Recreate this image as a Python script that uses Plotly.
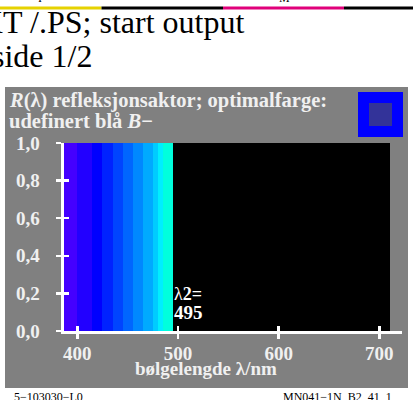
import plotly.graph_objects as go

W, H = 413, 400

# ---- data ----
band_edges = [386, 400, 415, 425, 435, 445, 455, 465, 475, 480, 485, 495]
band_colors = ["#4400ff", "#2200ff", "#0000ff", "#0022ff", "#0044ff", "#0066ff",
               "#0088ff", "#00aaff", "#00ccff", "#00eeff", "#00ffdd"]
band_reflectance = [1.0] * 11
frame_range = [386, 711]
frame_value = 1.0
x_tickvals = [400, 500, 600, 700]
x_ticktext = ["400", "500", "600", "700"]
y_tickvals = [0.0, 0.2, 0.4, 0.6, 0.8, 1.0]
y_ticktext = ["0,0", "0,2", "0,4", "0,6", "0,8", "1,0"]
lambda2 = 495

FONT = "Liberation Serif"
LABEL = "#f0f0f0"


def px(x):
    return x / W


def py(y):
    return 1 - y / H


fig = go.Figure()

# black frame (plot area)
fig.add_trace(go.Bar(
    x=[(frame_range[0] + frame_range[1]) / 2], y=[frame_value],
    width=[frame_range[1] - frame_range[0]],
    marker=dict(color="#000000", line=dict(width=0)),
    hoverinfo="skip", showlegend=False,
))
# colored bands
mids = [(a + b) / 2 for a, b in zip(band_edges[:-1], band_edges[1:])]
widths = [b - a for a, b in zip(band_edges[:-1], band_edges[1:])]
fig.add_trace(go.Bar(
    x=mids, y=band_reflectance, width=widths,
    marker=dict(color=band_colors, line=dict(width=0)),
    hoverinfo="skip", showlegend=False,
))
# dummy trace for overlay axes (inner half of the crossing ticks)
fig.add_trace(go.Scatter(x=[None], y=[None], xaxis="x2", yaxis="y2",
                         showlegend=False, hoverinfo="skip"))

xdom = [px(63.5), px(402)]
ydom = [py(331), py(143)]
xr = [400 - (77.3 - 63.5) / 1.0067, 700 + (402 - 379.3) / 1.0067]

fig.update_layout(
    width=W, height=H, autosize=False,
    margin=dict(l=0, r=0, t=0, b=0, autoexpand=False),
    paper_bgcolor="#ffffff", plot_bgcolor="rgba(0,0,0,0)",
    barmode="overlay", bargap=0,
    font=dict(family=FONT),
    xaxis=dict(domain=xdom, range=xr, tickvals=x_tickvals,
               ticktext=["<b>" + t + "</b>" for t in x_ticktext],
               ticks="outside", ticklen=5, tickwidth=2.5, tickcolor="#ffffff",
               showline=True, linecolor="#ffffff", linewidth=3,
               showgrid=False, zeroline=False, automargin=False,
               tickfont=dict(family=FONT, size=19, color=LABEL),
               ticklabelstandoff=0),
    yaxis=dict(domain=ydom, range=[0, 1], tickvals=y_tickvals,
               ticktext=["<b>" + t + "</b>" for t in y_ticktext],
               ticks="outside", ticklen=5, tickwidth=2.5, tickcolor="#ffffff",
               showline=True, linecolor="#ffffff", linewidth=3,
               showgrid=False, zeroline=False, automargin=False,
               tickfont=dict(family=FONT, size=19, color=LABEL),
               ticklabelstandoff=12),
    xaxis2=dict(domain=xdom, range=xr, overlaying="x", anchor="y2", tickvals=x_tickvals,
                ticks="inside", ticklen=5, tickwidth=2.5, tickcolor="#ffffff",
                showticklabels=False, showgrid=False, zeroline=False, showline=False),
    yaxis2=dict(domain=ydom, range=[0, 1], overlaying="y", anchor="x2", tickvals=y_tickvals,
                ticks="inside", ticklen=5, tickwidth=2.5, tickcolor="#ffffff",
                showticklabels=False, showgrid=False, zeroline=False, showline=False),
)
try:
    fig.layout.xaxis.ticklabelstandoff = -2
except ValueError:
    pass

shapes = [
    # gray panel
    dict(type="rect", xref="paper", yref="paper", x0=px(5), x1=px(408), y0=py(388), y1=py(87),
         fillcolor="#808080", line=dict(width=0), layer="below"),
    # colour patch
    dict(type="rect", xref="paper", yref="paper", x0=px(358), x1=px(403), y0=py(137), y1=py(92),
         fillcolor="#0000ff", line=dict(width=0), layer="above"),
    dict(type="rect", xref="paper", yref="paper", x0=px(369), x1=px(392), y0=py(126), y1=py(103),
         fillcolor="#333399", line=dict(width=0), layer="above"),
]
# top colour strip
for x0, x1, c in [(0, 101.5, "#e6d200"), (101.5, 223, "#000000"),
                  (223, 344, "#e0007a"), (344, 413, "#000000")]:
    shapes.append(dict(type="line", xref="paper", yref="paper", x0=px(x0), x1=px(x1),
                       y0=py(8), y1=py(8), line=dict(color=c, width=3)))
fig.update_layout(shapes=shapes)

ann = [
    dict(text="<b><i>R</i>(λ) refleksjonsaktor; optimalfarge:</b>",
         x=px(8), y=py(88), xanchor="left", yanchor="top", align="left",
         font=dict(family=FONT, size=20.5, color=LABEL)),
    dict(text="<b>udefinert blå <i>B</i>−</b>",
         x=px(8), y=py(109), xanchor="left", yanchor="top", align="left",
         font=dict(family=FONT, size=20.5, color=LABEL)),
    dict(text="<b>bølgelengde λ/nm</b>", x=px(206), y=py(368.5), xanchor="center", yanchor="middle",
         font=dict(family=FONT, size=19, color=LABEL)),
    dict(text="λ<b>2=</b>", xref="x", yref="paper", x=lambda2, y=py(283),
         xanchor="left", yanchor="top", align="left",
         font=dict(family=FONT, size=18, color="#ffffff")),
    dict(text="<b>495</b>", xref="x", yref="paper", x=lambda2, y=py(301),
         xanchor="left", yanchor="top", align="left",
         font=dict(family=FONT, size=19, color="#ffffff")),
    dict(text="XT /.PS; start output", x=px(245), y=py(41), xanchor="right", yanchor="bottom",
         font=dict(family=FONT, size=32, color="#000000")),
    dict(text="side 1/2", x=px(93), y=py(75), xanchor="right", yanchor="bottom",
         font=dict(family=FONT, size=32, color="#000000")),
    dict(text="5−103030−L0", x=px(13), y=py(389), xanchor="left", yanchor="top",
         font=dict(family=FONT, size=12, color="#000000")),
    dict(text="MN041−1N_B2_41_1", x=px(393), y=py(389), xanchor="right", yanchor="top",
         font=dict(family=FONT, size=12, color="#000000")),
    dict(text="I", x=px(40), y=py(6), xanchor="center", yanchor="bottom",
         font=dict(family=FONT, size=12, color="#000000")),
    dict(text="M", x=px(284), y=py(6), xanchor="center", yanchor="bottom",
         font=dict(family=FONT, size=12, color="#000000")),
]
for a in ann:
    a.setdefault("xref", "paper")
    a.setdefault("yref", "paper")
    a["showarrow"] = False
    a["borderpad"] = 0
fig.update_layout(annotations=ann)

fig.write_html("out.html",
               config={"displayModeBar": False, "staticPlot": True},
               post_script="document.body.style.margin='0';document.body.style.padding='0';"
                           "document.body.style.overflow='hidden';")
